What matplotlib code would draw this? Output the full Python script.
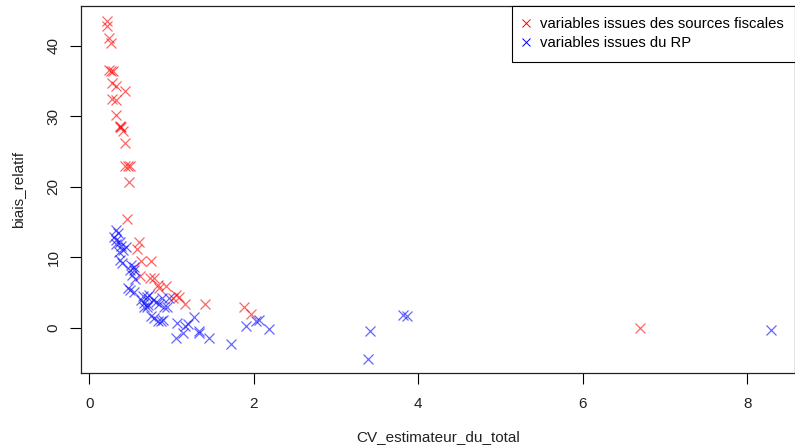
import matplotlib
matplotlib.use("Agg")
import matplotlib.pyplot as plt

plt.rcParams['font.family'] = ['Liberation Sans', 'DejaVu Sans']

# red: variables issues des sources fiscales
fisc_x = [0.21, 0.22, 0.24, 0.26, 0.24, 0.26, 0.29, 0.28, 0.33, 0.43, 0.28, 0.33,
          0.32, 0.37, 0.39, 0.38, 0.41, 0.43, 0.43, 0.47, 0.50, 0.48, 0.46,
          0.60, 0.58, 0.63, 0.75, 0.62, 0.74, 0.79, 0.84, 0.93, 0.85, 1.06, 1.09,
          1.02, 1.17, 1.41, 1.88, 1.97, 6.70]
fisc_y = [43.5, 42.7, 41.0, 40.3, 36.5, 36.4, 36.4, 34.7, 34.2, 33.5, 32.4, 32.3,
          30.2, 28.6, 28.5, 28.4, 27.9, 26.2, 23.0, 23.0, 23.0, 20.7, 15.4,
          12.1, 11.1, 9.5, 9.4, 7.4, 7.1, 7.0, 6.1, 5.9, 5.6, 4.7, 4.4,
          4.2, 3.4, 3.4, 3.0, 1.9, 0.0]

# blue: variables issues du RP
rp_x = [0.33, 0.35, 0.30, 0.33, 0.37, 0.33, 0.39, 0.45, 0.41, 0.36,
        0.37, 0.40, 0.51, 0.54, 0.49, 0.55, 0.52, 0.56,
        0.47, 0.50, 0.54, 0.65, 0.70, 0.73, 0.63, 0.67, 0.71, 0.67, 0.70,
        0.78, 0.81, 0.85, 0.91, 0.95, 0.89, 0.97, 0.75, 0.79, 0.83, 0.87, 0.90,
        1.07, 1.17, 1.20, 1.14, 1.27, 1.33, 1.34, 1.05, 1.46, 1.72, 1.91,
        2.03, 2.06, 2.19, 3.41, 3.39, 3.82, 3.86, 8.29]
rp_y = [13.8, 13.4, 12.9, 12.5, 12.1, 11.9, 11.6, 11.4, 11.0, 10.8,
        9.6, 9.2, 8.9, 8.6, 8.2, 8.2, 7.5, 6.9,
        5.6, 5.4, 5.1, 4.5, 4.4, 4.7, 4.0, 3.5, 3.3, 2.9, 2.9,
        4.0, 3.6, 3.4, 3.0, 2.9, 4.2, 4.2, 1.7, 1.4, 1.0, 1.0, 1.1,
        0.75, 0.2, 0.5, -0.7, 1.5, -0.5, -0.8, -1.5, -1.5, -2.3, 0.3,
        0.9, 1.1, -0.2, -0.5, -4.4, 1.8, 1.7, -0.3]

labels = ["variables issues des sources fiscales", "variables issues du RP"]

fig = plt.figure(figsize=(7.95, 4.48), dpi=100)
ax = fig.add_axes([81/795, 75/448, 1 - 81/795, (373-6)/448])

ax.plot(fisc_x, fisc_y, linestyle='none', marker='x', color='red', alpha=0.6,
        markersize=7, markeredgewidth=0.9, label=labels[0])
ax.plot(rp_x, rp_y, linestyle='none', marker='x', color='blue', alpha=0.6,
        markersize=7, markeredgewidth=0.9, label=labels[1])

ax.set_xlim(-0.10, 8.58)
ax.set_ylim(-6.4, 45.6)
ax.set_xticks([0, 2, 4, 6, 8])
ax.set_yticks([0, 10, 20, 30, 40])
ax.tick_params(direction='out', length=8, width=0.8, labelsize=11,
               colors='black', labelcolor='#222222')
ax.tick_params(axis='x', pad=9)
ax.tick_params(axis='y', pad=6.7)
for lab in ax.get_yticklabels():
    lab.set_rotation(90)
    lab.set_va('center')
for s in ax.spines.values():
    s.set_linewidth(0.9)
    s.set_color('#222222')

ax.set_xlabel("CV_estimateur_du_total", fontsize=11, labelpad=14, color='#222222')
ax.set_ylabel("biais_relatif", fontsize=11, labelpad=15.5, color='#222222')

leg = ax.legend(loc='upper right', bbox_to_anchor=(1.0, 1.0), borderaxespad=0,
                fancybox=False, framealpha=1, edgecolor='black', fontsize=10.7,
                handlelength=0.4, handletextpad=0.73, borderpad=0.77,
                labelspacing=0.34)
leg.get_frame().set_linewidth(0.8)
for h in leg.legend_handles:
    h.set_alpha(1)
    h.set_markersize(6)
    h.set_markeredgewidth(0.7)

fig.savefig("out.png", dpi=100)
